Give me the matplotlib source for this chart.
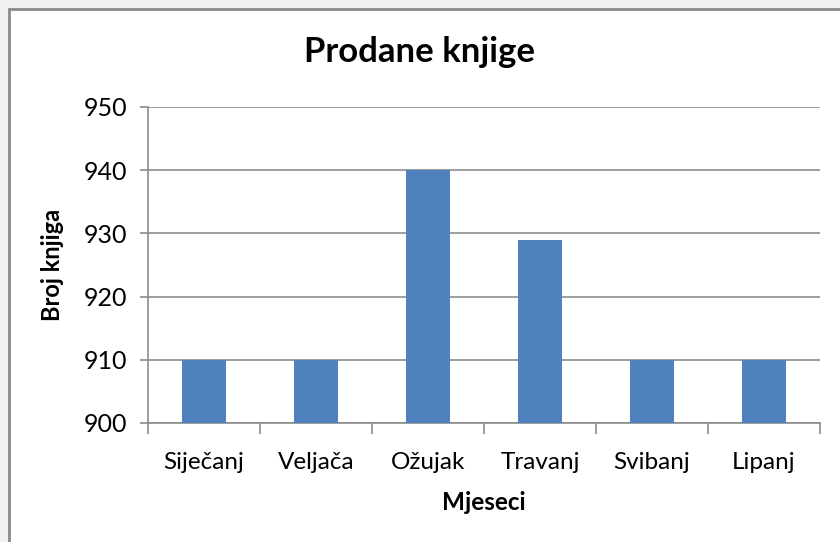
import matplotlib
matplotlib.use("Agg")
import matplotlib.pyplot as plt
from matplotlib.patches import Rectangle

months = ["Siječanj", "Veljača", "Ožujak", "Travanj", "Svibanj", "Lipanj"]
books = [910, 910, 940, 929, 910, 910]
y_ticks = [900, 910, 920, 930, 940, 950]

plt.rcParams["font.family"] = ["Lato", "DejaVu Sans"]

fig = plt.figure(figsize=(8.4, 5.42), dpi=100)
fig.patch.set_facecolor("#f0f0f0")
# white chart area with grey frame
fig.patches.append(Rectangle((9 / 840, -0.01), 1, 1.01 - 9 / 542, transform=fig.transFigure,
                             facecolor="white", edgecolor="#8a8a8a", linewidth=2, zorder=-1))

ax = fig.add_axes([148 / 840, 1 - 423 / 542, (820 - 148) / 840, (423 - 107) / 542])
ax.set_zorder(2)
ax.set_facecolor("white")

x = range(len(months))
ax.bar(x, books, width=0.4, color="#4f81bd", zorder=3)

ax.set_ylim(900, 950)
ax.set_xlim(-0.5, len(months) - 0.5)
ax.set_yticks(y_ticks)
ax.yaxis.grid(True, color="#8c8c8c", linewidth=1.2, zorder=0)

ax.set_xticks(x)
ax.set_xticklabels(months, fontsize=17.5)
ax.tick_params(axis="x", length=0, pad=21)
ax.set_xticks([i - 0.5 for i in range(len(months) + 1)], minor=True)
ax.tick_params(axis="x", which="minor", length=8, color="#8c8c8c", width=1.2)
ax.tick_params(axis="y", labelsize=18, length=6, color="#8c8c8c", width=1.2, pad=9)

for side in ["top", "right"]:
    ax.spines[side].set_visible(False)
for side in ["left", "bottom"]:
    ax.spines[side].set_color("#8c8c8c")
    ax.spines[side].set_linewidth(1.2)

ax.set_ylabel("Broj knjiga", fontsize=17, fontweight="bold", labelpad=14)
ax.set_xlabel("Mjeseci", fontsize=17.5, fontweight="bold", labelpad=13)
fig.text(0.5, 1 - 52 / 542, "Prodane knjige", ha="center", va="center",
         fontsize=25, fontweight="bold")

fig.savefig("out.png", dpi=100, facecolor=fig.get_facecolor())
